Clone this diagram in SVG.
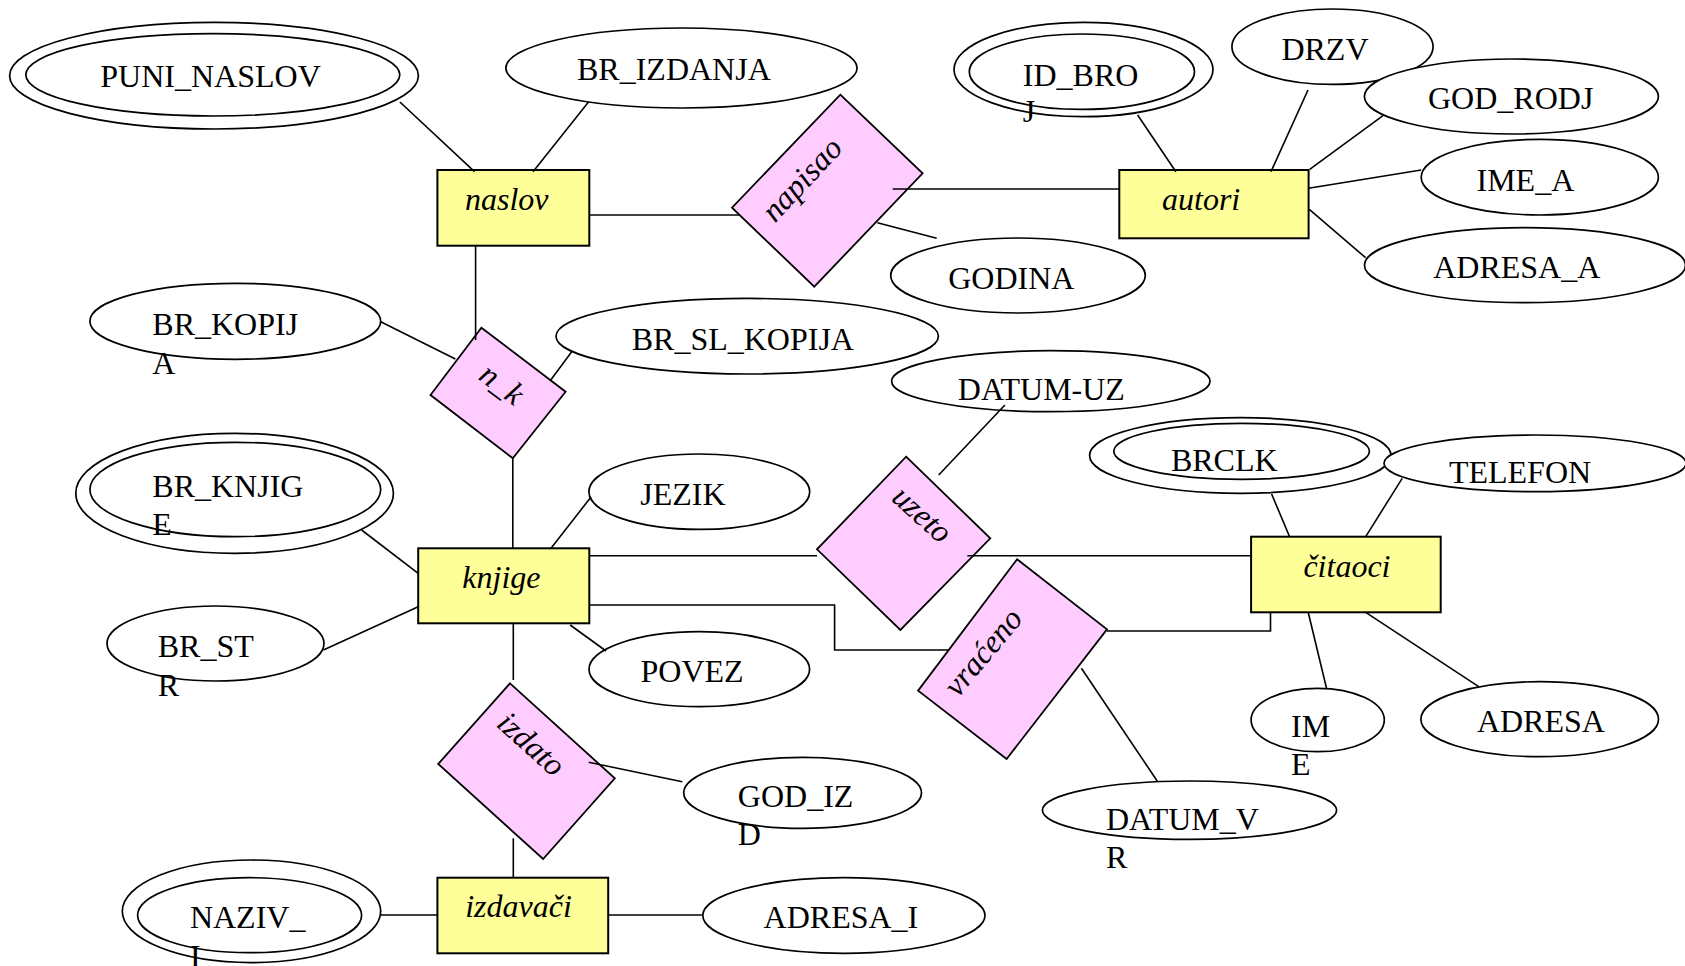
<svg xmlns="http://www.w3.org/2000/svg" width="1685" height="966" viewBox="0 0 1685 966">
<style>
  text { font-family: "Liberation Serif", "Times New Roman", serif; font-size: 32px; fill: #000; }
  .it { font-style: italic; }
  .ent { fill: #FFFF99; stroke: #000; stroke-width: 2; }
  .rel { fill: #FFCCFF; stroke: #000; stroke-width: 1.8; }
  .att { fill: #fff; stroke: #000; stroke-width: 1.7; }
  .con line, .con polyline { stroke: #000; stroke-width: 1.6; fill: none; }
</style>
<rect width="1685" height="966" fill="#fff"/>

<!-- entities -->
<g id="naslov"><rect class="ent" x="437.4" y="170" width="151.9" height="75.7"/><text class="it" x="465" y="210">naslov</text></g>
<g id="autori"><rect class="ent" x="1119.3" y="170" width="189.3" height="68.3"/><text class="it" x="1162" y="210">autori</text></g>
<g id="knjige"><rect class="ent" x="418.2" y="548.3" width="171.1" height="75"/><text class="it" x="462.3" y="588.3">knjige</text></g>
<g id="citaoci"><rect class="ent" x="1251.1" y="536.7" width="189.6" height="75.6"/><text class="it" x="1303.4" y="576.7">čitaoci</text></g>
<g id="izdavaci"><rect class="ent" x="437.4" y="877.7" width="170.8" height="75.6"/><text class="it" x="465.2" y="916.7">izdavači</text></g>

<!-- relationships -->
<g id="napisao"><polygon class="rel" points="840.3,94.7 922.6,173.3 814.3,286.7 732,207.7"/><text class="it" text-anchor="middle" transform="translate(809.5,186.5) rotate(-47)">napisao</text></g>
<g id="n_k"><polygon class="rel" points="481.4,327.7 565.6,391.7 512.8,458.3 430.5,395"/><text class="it" text-anchor="middle" transform="translate(495.7,392.3) rotate(37)">n_k</text></g>
<g id="uzeto"><polygon class="rel" points="906.1,456.7 990.3,538.3 900.4,630 817,549.3"/><text class="it" text-anchor="middle" transform="translate(915.3,522.2) rotate(42)">uzeto</text></g>
<g id="vraceno"><polygon class="rel" points="1017.1,559.3 1107,629.3 1006.6,759 918.1,690.7"/><text class="it" text-anchor="middle" transform="translate(991,659) rotate(-50)">vraćeno</text></g>
<g id="izdato"><polygon class="rel" points="510,683.3 614.8,778.3 543.1,859 438.2,764"/><text class="it" text-anchor="middle" transform="translate(524.2,751.7) rotate(42)">izdato</text></g>

<!-- attributes -->
<g id="puni_naslov"><ellipse class="att" cx="214" cy="75.7" rx="204.4" ry="53.3"/><ellipse class="att" cx="212.8" cy="74.8" rx="187" ry="41.2"/><text x="100.3" y="87.3">PUNI_NASLOV</text></g>
<g id="br_izdanja"><ellipse class="att" cx="681.5" cy="68" rx="175.6" ry="40"/><text x="577" y="80">BR_IZDANJA</text></g>
<g id="godina"><ellipse class="att" cx="1018" cy="275.5" rx="127.3" ry="37.5"/><text x="948.2" y="289.3">GODINA</text></g>
<g id="id_broj"><ellipse class="att" cx="1083.5" cy="69.5" rx="129.5" ry="47.2"/><ellipse class="att" cx="1081.9" cy="71.7" rx="112.6" ry="37.7"/><text x="1022.8" y="86">ID_BRO<tspan x="1022.8" y="122">J</tspan></text></g>
<g id="drzv"><ellipse class="att" cx="1332.5" cy="46.7" rx="100.6" ry="37.7"/><text x="1281.4" y="60">DRZV</text></g>
<g id="god_rodj"><ellipse class="att" cx="1511.4" cy="96.5" rx="147" ry="37.5"/><text x="1428" y="109.3">GOD_RODJ</text></g>
<g id="ime_a"><ellipse class="att" cx="1539.8" cy="177.2" rx="118.6" ry="37.8"/><text x="1476.5" y="190.7">IME_A</text></g>
<g id="adresa_a"><ellipse class="att" cx="1525" cy="265.2" rx="160.5" ry="37.5"/><text x="1433.2" y="278.3">ADRESA_A</text></g>
<g id="br_kopija"><ellipse class="att" cx="235.3" cy="321.3" rx="145.4" ry="38"/><text x="152.3" y="335">BR_KOPIJ<tspan x="152.3" y="374">A</tspan></text></g>
<g id="br_sl_kopija"><ellipse class="att" cx="747.2" cy="336.2" rx="191.2" ry="37.8"/><text x="631.7" y="350">BR_SL_KOPIJA</text></g>
<g id="datum_uz"><ellipse class="att" cx="1050.8" cy="381.2" rx="159.2" ry="30.5"/><text x="957.8" y="400">DATUM-UZ</text></g>
<g id="br_knjige"><ellipse class="att" cx="234.6" cy="493.3" rx="158.8" ry="60"/><ellipse class="att" cx="235.3" cy="489.5" rx="145.4" ry="47.2"/><text x="152.3" y="496.7">BR_KNJIG<tspan x="152.3" y="535">E</tspan></text></g>
<g id="jezik"><ellipse class="att" cx="699.3" cy="491.7" rx="110.4" ry="37.7"/><text x="640.2" y="505">JEZIK</text></g>
<g id="brclk"><ellipse class="att" cx="1240.3" cy="455.5" rx="150.7" ry="37.8"/><ellipse class="att" cx="1241.6" cy="451.3" rx="127.8" ry="28"/><text x="1170.9" y="470.7">BRCLK</text></g>
<g id="telefon"><ellipse class="att" cx="1535" cy="463.3" rx="151" ry="28.3"/><text x="1448.9" y="482.7">TELEFON</text></g>
<g id="br_str"><ellipse class="att" cx="215.5" cy="643.5" rx="108.5" ry="37.5"/><text x="157.7" y="656.7">BR_ST<tspan x="157.7" y="696">R</tspan></text></g>
<g id="povez"><ellipse class="att" cx="699.3" cy="669.2" rx="110.3" ry="37.5"/><text x="640.5" y="681.7">POVEZ</text></g>
<g id="ime"><ellipse class="att" cx="1317.7" cy="720" rx="66.6" ry="31.7"/><text x="1291" y="736.7">IM<tspan x="1291" y="775">E</tspan></text></g>
<g id="adresa"><ellipse class="att" cx="1539.7" cy="719.2" rx="118.8" ry="37.5"/><text x="1476.9" y="731.7">ADRESA</text></g>
<g id="god_izd"><ellipse class="att" cx="802.6" cy="792.8" rx="118.9" ry="35.5"/><text x="737.8" y="806.7">GOD_IZ<tspan x="737.8" y="845">D</tspan></text></g>
<g id="datum_vr"><ellipse class="att" cx="1189.5" cy="810.2" rx="147.1" ry="29.2"/><text x="1106" y="830">DATUM_V<tspan x="1106" y="868.3">R</tspan></text></g>
<g id="naziv_i"><ellipse class="att" cx="251.5" cy="911.3" rx="129.2" ry="51.3"/><ellipse class="att" cx="249.6" cy="915.2" rx="112" ry="37.5"/><text x="189.9" y="928.3">NAZIV_<tspan x="189.9" y="967">I</tspan></text></g>
<g id="adresa_i"><ellipse class="att" cx="843.9" cy="915.5" rx="141.1" ry="37.8"/><text x="763.6" y="927.7">ADRESA_I</text></g>

<!-- connectors -->
<g class="con" id="connectors">
  <line x1="399.9" y1="102" x2="474.5" y2="171.7"/>
  <line x1="588.5" y1="102" x2="533" y2="171.7"/>
  <line x1="589.3" y1="215" x2="739.7" y2="215"/>
  <line x1="892.7" y1="189" x2="1119.3" y2="189"/>
  <line x1="877.4" y1="222.7" x2="936.7" y2="238.3"/>
  <line x1="1137.6" y1="115" x2="1175.9" y2="171.7"/>
  <line x1="1308" y1="90" x2="1271" y2="171.7"/>
  <line x1="1383" y1="115.7" x2="1309.7" y2="169.3"/>
  <line x1="1308.6" y1="188.3" x2="1421.2" y2="170"/>
  <line x1="1309.3" y1="209.3" x2="1365.6" y2="257.7"/>
  <line x1="475.6" y1="245.7" x2="475.6" y2="340"/>
  <line x1="380.7" y1="321.7" x2="455.4" y2="359"/>
  <line x1="571.7" y1="351.7" x2="550" y2="381"/>
  <line x1="512.8" y1="458.3" x2="512.8" y2="548.3"/>
  <line x1="361.6" y1="530" x2="418.2" y2="573.3"/>
  <line x1="323.4" y1="650" x2="418.2" y2="606.7"/>
  <line x1="551" y1="548.3" x2="591" y2="497"/>
  <line x1="570.2" y1="625" x2="606" y2="651"/>
  <line x1="1004.9" y1="405" x2="938.7" y2="475"/>
  <line x1="589.3" y1="555.7" x2="817" y2="555.7"/>
  <line x1="967.4" y1="555.7" x2="1251.1" y2="555.7"/>
  <polyline points="589.3,605 834.6,605 834.6,650 948.2,650"/>
  <polyline points="1107,631 1270.5,631 1270.5,612.3"/>
  <line x1="1081.4" y1="668.3" x2="1157.2" y2="781"/>
  <line x1="1271.6" y1="494" x2="1289.6" y2="536.7"/>
  <line x1="1402.2" y1="478.3" x2="1365.7" y2="536.7"/>
  <line x1="1308.2" y1="612.3" x2="1326.5" y2="688.3"/>
  <line x1="1365.7" y1="612.3" x2="1478.7" y2="686.7"/>
  <line x1="513.3" y1="623.3" x2="513.3" y2="680"/>
  <line x1="513.3" y1="838.3" x2="513.3" y2="877.7"/>
  <line x1="588.7" y1="762.3" x2="682.3" y2="781.7"/>
  <line x1="380.6" y1="915" x2="437.4" y2="915"/>
  <line x1="608.2" y1="915" x2="702.8" y2="915"/>
</g>
</svg>
